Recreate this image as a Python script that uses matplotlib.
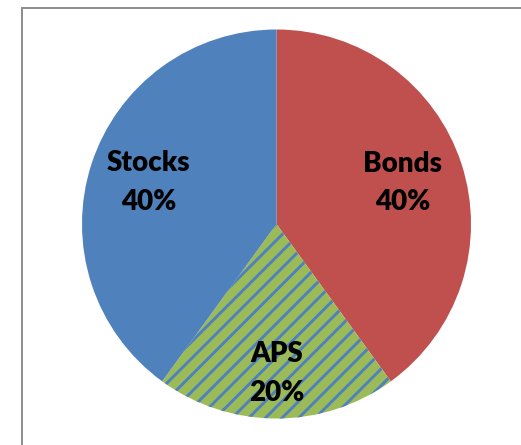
import numpy as np
import matplotlib
matplotlib.use("Agg")
import matplotlib.pyplot as plt
from matplotlib.patches import Rectangle

# allocation shares, clockwise from 12 o'clock
names = ["Bonds", "APS", "Stocks"]
shares = [40, 20, 40]
colors = ["#C0504D", "#9BBB59", "#4F81BD"]
label_dist = [0.68, 0.77, 0.69]

plt.rcParams["hatch.linewidth"] = 2.1

fig = plt.figure(figsize=(5.21, 4.45), dpi=100)

# chart area border (runs off the right and bottom edges)
fig.patches.append(Rectangle((21.5 / 521, -0.1), 1.2, 1.1 - 8.5 / 445,
                             transform=fig.transFigure, fill=False,
                             edgecolor="#8C8C8C", linewidth=1.4))

ax = fig.add_axes([82 / 521, 26.5 / 445, 389 / 521, 389 / 445])
wedges, _ = ax.pie(shares, colors=colors, startangle=90, counterclock=False,
                   radius=1.0, wedgeprops=dict(linewidth=0))

# striped APS slice
aps = wedges[1]
aps.set_hatch("//")
aps.set_edgecolor("#4F81BD")
aps.set_linewidth(0)

total = sum(shares)
for w, name, v, d in zip(wedges, names, shares, label_dist):
    ang = np.deg2rad((w.theta1 + w.theta2) / 2)
    ax.text(d * np.cos(ang), d * np.sin(ang), f"{name}\n{v / total:.0%}",
            ha="center", va="center", fontsize=20, fontweight="heavy",
            family="Lato", linespacing=1.6, color="black")

ax.set_xlim(-1, 1)
ax.set_ylim(-1, 1)
ax.set_aspect("equal")
ax.axis("off")

fig.savefig("out.png", dpi=100)
